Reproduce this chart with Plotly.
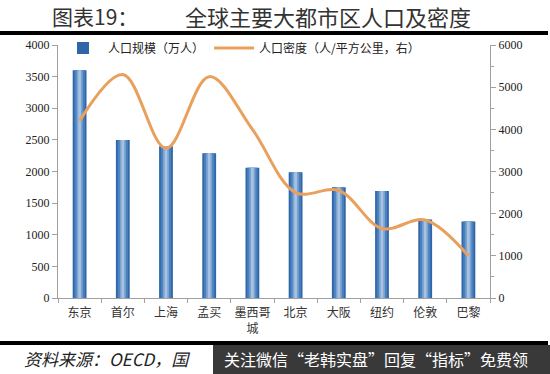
import plotly.graph_objects as go

cities = ["东京", "首尔", "上海", "孟买", "墨西哥<br>城", "北京", "大阪", "纽约", "伦敦", "巴黎"]
population = [3600, 2500, 2400, 2290, 2060, 1990, 1750, 1690, 1240, 1210]
density = [4200, 5300, 3550, 5250, 4000, 2500, 2550, 1650, 1850, 1000]
left_ticks = [0, 500, 1000, 1500, 2000, 2500, 3000, 3500, 4000]
right_ticks = [0, 1000, 2000, 3000, 4000, 5000, 6000]

serif = "Liberation Serif, Times New Roman, serif"
cjk = "Noto Sans CJK SC, sans-serif"

fig = go.Figure()

# gradient-like bars (layered)
layers = [(0.32, "#2F66AA", True), (0.24, "#4A80BE", False), (0.14, "#7BA3D0", False), (0.06, "#A8C3E2", False)]
for w, c, show in layers:
    fig.add_trace(go.Bar(
        x=cities, y=population, width=w, marker=dict(color=c, line=dict(width=0)),
        name="人口规模（万人）", showlegend=show, yaxis="y", hoverinfo="skip" if not show else None,
    ))

fig.add_trace(go.Scatter(
    x=cities, y=density, mode="lines", name="人口密度（人/平方公里，右）",
    line=dict(color="#E9A05C", width=3, shape="spline", smoothing=1.0), yaxis="y2",
))

fig.update_layout(
    width=550, height=374,
    margin=dict(l=58, r=60, t=45, b=76),
    paper_bgcolor="white", plot_bgcolor="white",
    barmode="overlay",
    showlegend=True,
    legend=dict(orientation="h", x=0.0, y=1.045, xanchor="left", yanchor="top",
                bgcolor="rgba(0,0,0,0)", font=dict(family=cjk, size=12, color="#222"),
                itemwidth=40, tracegroupgap=0, traceorder="normal"),
    xaxis=dict(showline=True, linecolor="#A0A0A0", linewidth=1, ticks="outside", tickson="boundaries",
               ticklen=4, tickcolor="#A0A0A0", tickfont=dict(family=cjk, size=12, color="#333"),
               tickangle=0, ticklabelstandoff=4, showgrid=False, fixedrange=True),
    yaxis=dict(range=[0, 4000], tickvals=left_ticks, showline=True, linecolor="#A0A0A0", linewidth=1,
               ticks="outside", ticklen=5, tickcolor="#A0A0A0", showgrid=False, zeroline=False,
               tickfont=dict(family=serif, size=12, color="#222"), fixedrange=True),
    yaxis2=dict(range=[0, 6000], tickvals=right_ticks, overlaying="y", side="right", showline=True,
                linecolor="#A0A0A0", linewidth=1, ticks="outside", ticklen=5, tickcolor="#A0A0A0",
                minor=dict(dtick=500, ticks="outside", ticklen=3, tickcolor="#A0A0A0"),
                showgrid=False, zeroline=False, tickfont=dict(family=serif, size=12, color="#222"),
                fixedrange=True),
)

# title
fig.add_annotation(text="图表19：", xref="paper", yref="paper", x=(50-58)/432, y=1 + (45-16)/253,
                   xanchor="left", yanchor="middle", showarrow=False,
                   font=dict(family=cjk, size=21, color="#333"))
fig.add_annotation(text="全球主要大都市区人口及密度", xref="paper", yref="paper", x=(183-58)/432, y=1 + (45-16)/253,
                   xanchor="left", yanchor="middle", showarrow=False,
                   font=dict(family=cjk, size=22, color="#333"))

# thick rules
fig.add_shape(type="line", xref="paper", yref="paper", x0=-58/432, x1=(548-58)/432,
              y0=1 + (45-33)/253, y1=1 + (45-33)/253, line=dict(color="black", width=4))
fig.add_shape(type="line", xref="paper", yref="paper", x0=-58/432, x1=(548-58)/432,
              y0=-(343-298)/253, y1=-(343-298)/253, line=dict(color="black", width=4))

# source
fig.add_annotation(text="<i>资料来源：OECD，国</i>", xref="paper", yref="paper", x=(22-58)/432, y=-(358-298)/253,
                   xanchor="left", yanchor="middle", showarrow=False,
                   font=dict(family=cjk, size=17, color="#222"))
# watermark box
fig.add_shape(type="rect", xref="paper", yref="paper", x0=(213-58)/432, x1=(550-58)/432,
              y0=-(345-298)/253, y1=-(376-298)/253, fillcolor="rgba(40,40,40,0.92)", line=dict(width=0))
fig.add_annotation(text="关注微信“老韩实盘”回复“指标”免费领", xref="paper", yref="paper", x=(222-58)/432, y=-(359-298)/253,
                   xanchor="left", yanchor="middle", showarrow=False,
                   font=dict(family=cjk, size=16, color="white"))

fig.write_html("out.html", config={"displayModeBar": False},
               post_script="document.body.style.margin='0';document.body.style.padding='0';")
